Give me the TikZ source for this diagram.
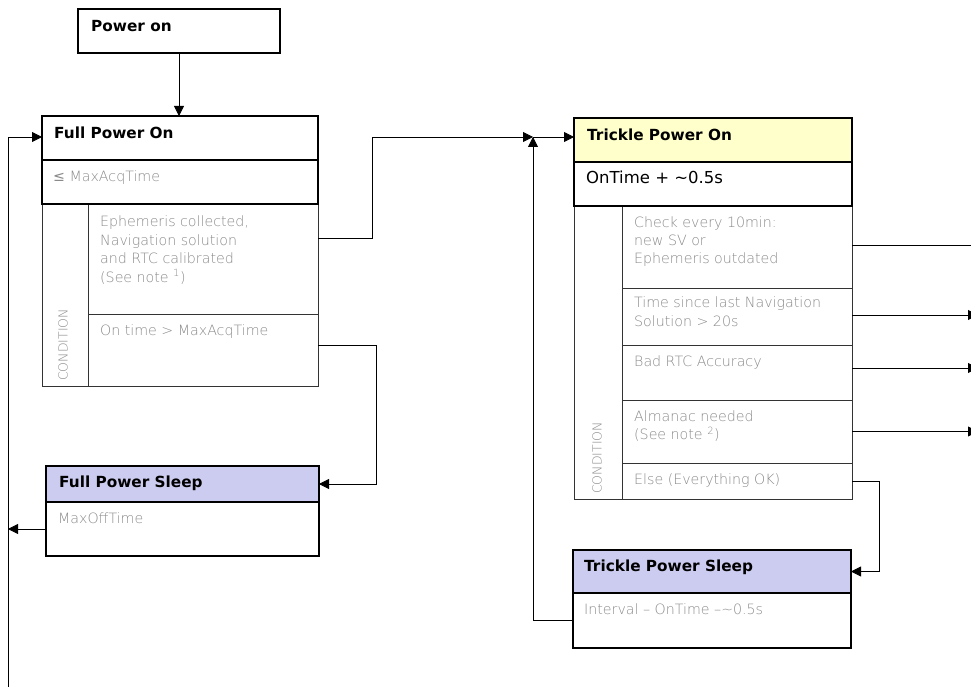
\documentclass[tikz,border=0pt]{standalone}
\usepackage{fontspec}
\setmainfont{DejaVu Sans}
\newfontfamily\lightfont{DejaVu Sans ExtraLight}
\newfontfamily\regfont{DejaVu Sans}
\usetikzlibrary{arrows.meta,calc}
\definecolor{lav}{HTML}{CCCCF0}
\definecolor{ylw}{HTML}{FFFFCC}
\definecolor{txtgray}{HTML}{8A8A8A}
\definecolor{linegray}{HTML}{333333}
\tikzset{
  thickbox/.style={draw=black, line width=1.5pt, anchor=north west, inner sep=0pt, outer sep=0pt},
  thinbox/.style={draw=linegray, line width=0.8pt, anchor=north west, inner sep=0pt, outer sep=0pt},
  ttl/.style={font=\fontsize{15.3}{18}\selectfont\bfseries, anchor=base west, inner sep=0pt},
  gtxt/.style={font=\lightfont\fontsize{14.2}{17}\selectfont, text=txtgray, anchor=base west, inner sep=0pt},
  btxt/.style={font=\fontsize{16.5}{19}\selectfont, anchor=base west, inner sep=0pt},
  condlbl/.style={font=\lightfont\fontsize{12.5}{14}\selectfont, text=txtgray, rotate=90, anchor=west, inner sep=0pt},
  conn/.style={draw=black, line width=0.8pt},
  arr/.style={conn, -{Triangle[length=10pt,width=10pt]}}
}
\begin{document}
\begin{tikzpicture}[x=1pt,y=-1pt]
\useasboundingbox (0,0) rectangle (971,687);
% ---------- Power on
\node[thickbox, minimum width=202pt, minimum height=44pt] (pon) at (78,9) {};
\node[ttl] (tpon) at (91,31.5) {Power on};
% ---------- Full Power On
\node[thinbox, minimum width=46pt, minimum height=182pt] (fcl) at (42,204) {};
\node[thinbox, minimum width=230pt, minimum height=110pt] (fpr1) at (88,204) {};
\node[thinbox, minimum width=230pt, minimum height=72pt] (fpr2) at (88,314) {};
\node[thickbox, minimum width=276pt, minimum height=44pt] (fpoh) at (42,116) {};
\node[thickbox, minimum width=276pt, minimum height=44pt] (fpot) at (42,160) {};
\node[ttl] (tfpoh) at (54,138.5) {Full Power On};
\node[gtxt] (tfpot) at (53,181.5) {{\regfont ≤} MaxAcqTime};
\node[gtxt] (tf1a) at (100,226.5) {Ephemeris collected,};
\node[gtxt] (tf1b) at (100,245) {Navigation solution};
\node[gtxt] (tf1c) at (100,263.5) {and RTC calibrated};
\node[gtxt] (tf1d) at (100,282) {(See note \textsuperscript{1})};
\node[gtxt] (tf2a) at (100,335.5) {On time > MaxAcqTime};
\node[condlbl] (tfcl) at (63,381) {CONDITION};
% ---------- Full Power Sleep
\node[thickbox, fill=lav, minimum width=273pt, minimum height=36pt] (fpsh) at (46,466) {};
\node[thickbox, minimum width=273pt, minimum height=54pt] (fpsb) at (46,502) {};
\node[ttl] (tfpsh) at (59,487.5) {Full Power Sleep};
\node[gtxt] (tfpsb) at (58,523.5) {MaxOffTime};
% ---------- Trickle Power On
\node[thinbox, minimum width=48pt, minimum height=293pt] (tcl) at (574,206) {};
\node[thinbox, minimum width=230pt, minimum height=82pt] (tr1) at (622,206) {};
\node[thinbox, minimum width=230pt, minimum height=57pt] (tr2) at (622,288) {};
\node[thinbox, minimum width=230pt, minimum height=55pt] (tr3) at (622,345) {};
\node[thinbox, minimum width=230pt, minimum height=63pt] (tr4) at (622,400) {};
\node[thinbox, minimum width=230pt, minimum height=36pt] (tr5) at (622,463) {};
\node[thickbox, fill=ylw, minimum width=278pt, minimum height=44pt] (tpoh) at (574,118) {};
\node[thickbox, minimum width=278pt, minimum height=44pt] (tpot) at (574,162) {};
\node[ttl] (ttpoh) at (587,140.5) {Trickle Power On};
\node[btxt] (ttpot) at (586,184) {OnTime + \textasciitilde0.5s};
\node[gtxt] (tt1a) at (634,227.5) {Check every 10min:};
\node[gtxt] (tt1b) at (634,245.5) {new SV or};
\node[gtxt] (tt1c) at (634,263.5) {Ephemeris outdated};
\node[gtxt] (tt2a) at (634,307.5) {Time since last Navigation};
\node[gtxt] (tt2b) at (634,326.5) {Solution > 20s};
\node[gtxt] (tt3a) at (634,366.5) {Bad RTC Accuracy};
\node[gtxt] (tt4a) at (634,421.5) {Almanac needed};
\node[gtxt] (tt4b) at (634,439.5) {(See note \textsuperscript{2})};
\node[gtxt] (tt5a) at (634,484.5) {Else (Everything OK)};
\node[condlbl] (ttcl) at (597,494) {CONDITION};
% ---------- Trickle Power Sleep
\node[thickbox, fill=lav, minimum width=278pt, minimum height=43pt] (tpsh) at (573,550) {};
\node[thickbox, minimum width=278pt, minimum height=55pt] (tpsb) at (573,593) {};
\node[ttl] (ttpsh) at (584,571.5) {Trickle Power Sleep};
\node[gtxt] (ttpsb) at (584,614.5) {Interval – OnTime –\textasciitilde0.5s};
% ---------- helper coordinates
\coordinate (lbot) at (8,690);
\coordinate (merge) at (533,137);
\coordinate (redge) at (978,0);
\coordinate (redgeb) at (995,0);
% ---------- connectors
\draw[arr] (pon.south) -- (pon.south |- fpoh.north);
\draw[arr] (lbot) |- ([yshift=1pt]fpoh.west);
\draw[arr] (fpsb.west) -- (fpsb.west -| lbot);
\draw[arr] ([yshift=5pt]fpr2.east) -- ++(58,0) |- (fpsh.east);
\draw[arr] ([yshift=21pt]fpr1.east) -- ++(54,0) |- (merge);
\draw[arr] (merge) -- (merge -| tpoh.west);
\draw[arr] (tpsb.west) -| (merge);
\draw[arr] (tr5.east) -- ++(27,0) |- (tpsh.east);
\draw[arr] ([yshift=2pt]tr1.east) -- ([yshift=2pt]tr1.east -| redgeb);
\draw[arr] ([yshift=1.5pt]tr2.east) -- ([yshift=1.5pt]tr2.east -| redge);
\draw[arr] ([yshift=4.5pt]tr3.east) -- ([yshift=4.5pt]tr3.east -| redge);
\draw[arr] (tr4.east) -- (tr4.east -| redge);
\end{tikzpicture}
\end{document}
